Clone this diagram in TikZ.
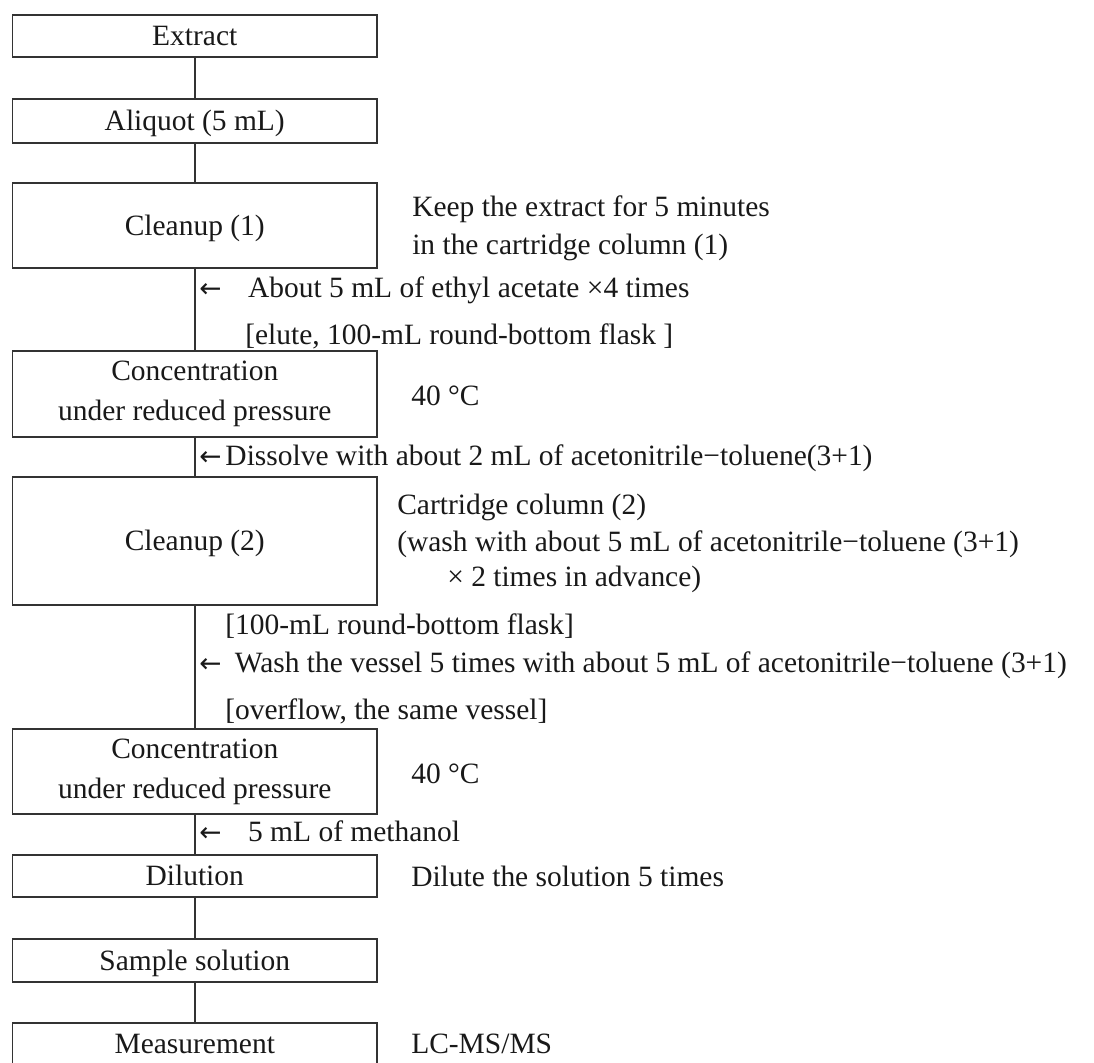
\documentclass[tikz,border=0pt]{standalone}
\usepackage{fontspec}
\setmainfont{Liberation Serif}
\newfontfamily\arrfont{DejaVu Sans}
\usepackage{graphicx}
\newcommand{\larr}{\scalebox{0.9}[0.9]{\arrfont ←}}
\begin{document}
\begin{tikzpicture}[x=0.75pt,y=-0.75pt,
  every node/.style={font=\fontsize{22.1pt}{30pt}\selectfont, text=black!90},
  box/.style={draw=black!80, line width=1.4pt, inner sep=0pt, minimum width=273.4pt},
  sbox/.style={box, text height=14.6pt, text depth=0pt},
  mbox/.style={box, align=center},
  bh/.style={minimum height=#1*0.75pt},
  txt/.style={inner sep=0pt, anchor=base west},
  conn/.style={draw=black!80, line width=1.2pt}]
\path[use as bounding box, clip] (0,0) rectangle (1094,1062);
\fill[white] (0,0) rectangle (1094,1062);
% main boxes
\node[sbox,bh=42] (ext) at (194.75,36) {Extract};
\node[sbox,bh=44] (ali) at (194.75,121) {Aliquot (5 mL)};
\node[sbox,bh=85] (cl1) at (194.75,225.5) {Cleanup (1)};
\node[mbox,bh=86] (cn1) at (194.75,394) {Concentration\\under reduced pressure};
\node[sbox,bh=128] (cl2) at (194.75,541) {Cleanup (2)};
\node[mbox,bh=85] (cn2) at (194.75,771.5) {Concentration\\under reduced pressure};
\node[sbox,bh=42] (dil) at (194.75,876) {Dilution};
\node[sbox,bh=43] (smp) at (194.75,960.5) {Sample solution};
\node[box,bh=90] (msr) at (194.75,1068) {};
\node[inner sep=0pt, anchor=base] (msrt) at (194.75,1053) {Measurement};
% connectors
\draw[conn] (ext) -- (ali);
\draw[conn] (ali) -- (cl1);
\draw[conn] (cl1) -- (cn1);
\draw[conn] (cn1) -- (cl2);
\draw[conn] (cl2) -- (cn2);
\draw[conn] (cn2) -- (dil);
\draw[conn] (dil) -- (smp);
\draw[conn] (smp) -- (msr);
% side notes
\node[txt] (c1a) at (412,217) {Keep the extract for 5 minutes};
\node[txt] (c1b) at (412,255) {in the cartridge column (1)};
\node[txt] (a1) at (199,297) {\larr\hspace{20pt}About 5 mL of ethyl acetate ×4 times};
\node[txt] (a1b) at (245,344) {[elute, 100-mL round-bottom flask ]};
\node[txt] (t40a) at (411,405) {40 °C};
\node[txt] (a2) at (199,465) {\larr\hspace{3pt}Dissolve with about 2 mL of acetonitrile−toluene(3+1)};
\node[txt] (c2a) at (397,514) {Cartridge column (2)};
\node[txt] (c2b) at (397,551) {(wash with about 5 mL of acetonitrile−toluene (3+1)};
\node[txt] (c2c) at (447,586) {× 2 times in advance)};
\node[txt] (b2) at (225,634) {[100-mL round-bottom flask]};
\node[txt] (a3) at (199,672) {\larr\hspace{10pt}Wash the vessel 5 times with about 5 mL of acetonitrile−toluene (3+1)};
\node[txt] (b3) at (225,719) {[overflow, the same vessel]};
\node[txt] (t40b) at (411,783) {40 °C};
\node[txt] (a4) at (199,841) {\larr\hspace{20pt}5 mL of methanol};
\node[txt] (dilt) at (411,886) {Dilute the solution 5 times};
\node[txt] (lcms) at (411,1053) {LC-MS/MS};
\end{tikzpicture}
\end{document}
